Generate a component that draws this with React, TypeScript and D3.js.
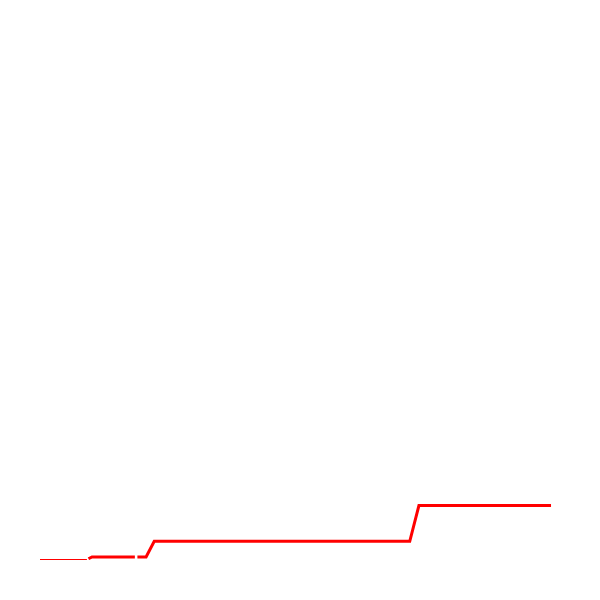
import React from "react";
import * as d3 from "d3";

const W = 600;
const H = 600;

// series 1: thin start
const thinX = [0, 9.2];
const thinY = [0, 0];

// series 2: thick cumulative line (null = missing)
const thickX = [9.5, 10.2, 18.6, 18.9, 19.1, 20.8, 22.4, 72.5, 74.3, 100.2];
const thickY: (number | null)[] = [0.15, 0.5, 0.5, null, 0.5, 0.5, 3.5, 3.5, 10.4, 10.4];

export default function App() {
  const x = d3.scaleLinear().domain([0, 100]).range([40, 550]);
  const y = d3.scaleLinear().domain([0, 100]).range([559.5, 40.5]);

  const thin = thinX.map((v, i) => ({ x: v, y: thinY[i] as number | null }));
  const thick = thickX.map((v, i) => ({ x: v, y: thickY[i] }));

  const line = d3
    .line<{ x: number; y: number | null }>()
    .defined((d) => d.y !== null)
    .x((d) => x(d.x))
    .y((d) => y(d.y as number));

  return (
    <svg width={W} height={H} style={{ position: "absolute", left: 0, top: 0 }}>
      <rect width={W} height={H} fill="#fff" />
      <path d={line(thin) || ""} fill="none" stroke="#ff0000" strokeWidth={1} />
      <path d={line(thick) || ""} fill="none" stroke="#ff0000" strokeWidth={3} />
    </svg>
  );
}
